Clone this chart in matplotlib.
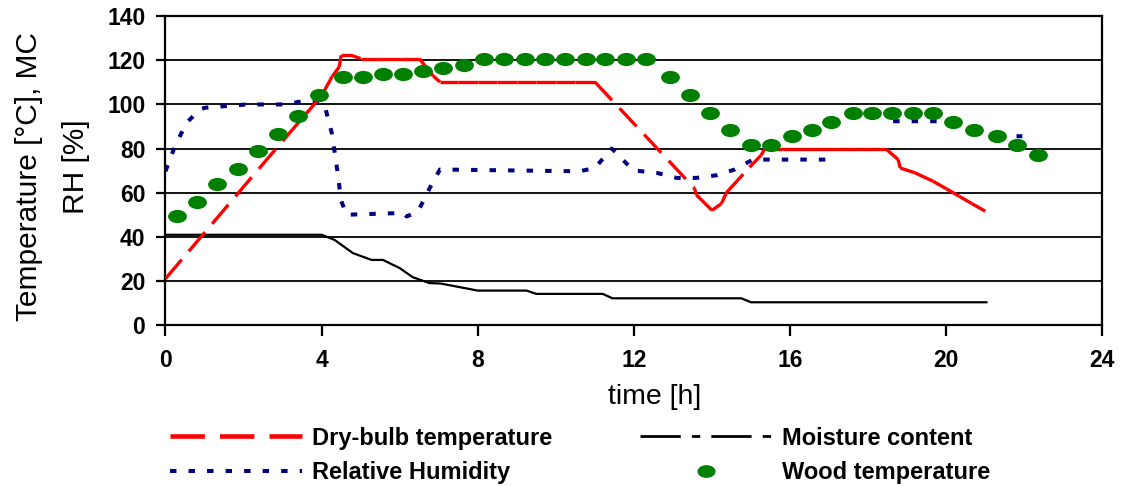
import matplotlib

matplotlib.use("Agg")
import matplotlib.pyplot as plt
import numpy as np
from matplotlib.lines import Line2D
from matplotlib.path import Path

plt.rcParams["font.family"] = ["Liberation Sans", "DejaVu Sans"]

# dry-bulb temperature [°C]
dry_t = [0.0, 2.4, 4.0, 4.27, 4.45, 4.5, 4.75, 5.0, 5.5, 6.0, 6.5, 6.86, 7.03,
         7.5, 8.0, 8.5, 9.0, 9.5, 10.0, 10.5, 11.0, 13.55, 13.6, 14.0, 14.24,
         14.37, 14.96, 15.26, 15.34, 15.8, 16.3, 16.8, 17.3, 17.8, 18.2, 18.47,
         18.77, 18.82, 19.2, 19.66, 20.0, 20.33, 20.66, 21.0]
dry_v = [21.0, 71.0, 104.0, 112.7, 117.0, 122.3, 122.3, 120.8, 120.8, 120.8,
         120.8, 112.9, 110.2, 110.2, 110.2, 110.2, 110.2, 110.2, 110.2, 110.2,
         110.2, 62.0, 59.0, 52.0, 55.0, 60.0, 71.5, 77.0, 79.6, 79.6, 79.6,
         79.6, 79.6, 79.6, 79.6, 79.6, 75.0, 71.2, 69.0, 65.2, 61.8, 58.4,
         55.0, 51.6]

# relative humidity [%]  (nan = no line)
rh_t = [0.0, 0.24, 0.54, 0.88, 1.01, 2.08, 3.02, 3.53, 4.04, 4.1, 4.26, 4.34,
        4.43, 4.49, 4.64, 6.09, 6.18, 6.47, 6.77, 7.03, 10.61, 11.0, 11.43,
        11.55, 11.98, 12.58, 13.09, 13.6, 14.12, 14.58, 15.05, 17.06, np.nan,
        18.64, 19.81, np.nan, 21.8, 21.95]
rh_v = [69.7, 81.0, 91.7, 97.7, 98.5, 100.0, 100.0, 101.5, 100.8, 98.0, 87.0,
        77.6, 66.7, 56.8, 50.0, 50.8, 49.2, 51.5, 62.1, 70.5, 69.7, 71.2, 80.0,
        78.0, 70.1, 69.0, 66.7, 66.7, 67.9, 70.5, 75.0, 75.0, np.nan, 92.4,
        92.4, np.nan, 85.6, 85.6]

# moisture content [%]
mc_t = [0.0, 4.0, 4.33, 4.8, 5.28, 5.57, 6.0, 6.33, 6.76, 7.05, 8.0, 9.25,
        9.5, 11.2, 11.45, 14.75, 15.0, 21.03]
mc_v = [40.9, 40.9, 38.6, 32.6, 29.5, 29.5, 25.8, 21.7, 19.0, 18.8, 15.6,
        15.6, 14.1, 14.1, 12.1, 12.1, 10.3, 10.3]

# wood temperature [°C]
wood_t = [0.29, 0.81, 1.33, 1.85, 2.36, 2.89, 3.40, 3.93, 4.54, 5.05, 5.56,
          6.09, 6.60, 7.11, 7.64, 8.16, 8.68, 9.21, 9.72, 10.23, 10.76, 11.27,
          11.79, 12.30, 12.92, 13.43, 13.94, 14.47, 14.99, 15.51, 16.04, 16.55,
          17.06, 17.60, 18.10, 18.62, 19.15, 19.66, 20.17, 20.70, 21.30, 21.82,
          22.35]
wood_v = [49.2, 55.9, 64.1, 70.8, 78.8, 86.8, 94.7, 104.4, 112.4, 112.4, 114.0,
          114.0, 115.2, 116.7, 117.7, 120.6, 120.6, 120.6, 120.6, 120.6, 120.6,
          120.6, 120.6, 120.6, 112.4, 104.4, 96.2, 88.2, 81.5, 81.5, 85.6, 88.2,
          92.1, 96.2, 96.2, 96.2, 96.2, 96.2, 92.1, 88.2, 85.6, 81.5, 77.3]

labels = ["Dry-bulb temperature", "Relative Humidity", "Moisture content",
          "Wood temperature"]

RED, NAVY, GREEN = "#ff0000", "#000080", "#008000"
DRY_DASH = (7.5, 3.3)
RH_DASH = (1.6, 3.0)
MC_DASH = (14.5, 4.0, 3.0, 4.0)

circ = Path.unit_circle()
ellipse = Path(circ.vertices * np.array([1.0, 0.68]), circ.codes)

fig = plt.figure(figsize=(11.22, 4.86), dpi=100)
ax = fig.add_axes([0.1475, 0.3313, 0.835, 0.6353])

ax.set_xlim(0, 24)
ax.set_ylim(0, 140)
ax.set_xticks(range(0, 25, 4))
ax.set_yticks(range(0, 141, 20))
ax.yaxis.grid(True, color="black", lw=1.3)
ax.set_axisbelow(True)
for s in ax.spines.values():
    s.set_linewidth(1.6)
ax.tick_params(axis="x", direction="out", length=8, width=1.6, pad=9,
               labelsize=16.5)
ax.tick_params(axis="y", direction="out", length=6.5, width=1.6, pad=8,
               labelsize=16.5)
for lab in ax.get_xticklabels() + ax.get_yticklabels():
    lab.set_fontweight("bold")

# moisture content: dense logged points, looks solid
ax.plot(mc_t, mc_v, color="black", lw=1.6, zorder=3)
# relative humidity
ax.plot(rh_t, rh_v, color=NAVY, lw=2.9, dashes=RH_DASH,
        dash_capstyle="butt", zorder=3)
# dry-bulb: dash pattern restarts on every segment (as in the source)
for i in range(len(dry_t) - 1):
    ax.plot(dry_t[i:i + 2], dry_v[i:i + 2], color=RED, lw=2.4,
            dashes=DRY_DASH, dash_capstyle="butt", zorder=4)
ax.plot(wood_t, wood_v, ls="none", marker=ellipse, ms=12.5, color=GREEN,
        zorder=5)

fig.text(0.026, 0.636, "Temperature [°C], MC", rotation=90, ha="center",
         va="center", fontsize=21.5)
fig.text(0.0677, 0.658, "RH [%]", rotation=90, ha="center", va="center",
         fontsize=21.5)
fig.text(0.583, 0.183, "time [h]", ha="center", va="center", fontsize=20.5)

handles = [
    Line2D([], [], color=RED, lw=3.3, dashes=DRY_DASH, dash_capstyle="butt"),
    Line2D([], [], color=NAVY, lw=2.9, dashes=RH_DASH, dash_capstyle="butt"),
    Line2D([], [], color="black", lw=2.0, dashes=MC_DASH),
    Line2D([], [], ls="none", marker=ellipse, ms=12, color=GREEN),
]
fig.legend(handles, labels, ncol=2, loc="upper left",
           bbox_to_anchor=(0.1515, 0.1224), frameon=False, borderpad=0,
           borderaxespad=0, handlelength=5.6, handletextpad=0.42,
           columnspacing=3.7, labelspacing=0.5,
           prop={"weight": "bold", "size": 17})

fig.savefig("out.png", dpi=100)
